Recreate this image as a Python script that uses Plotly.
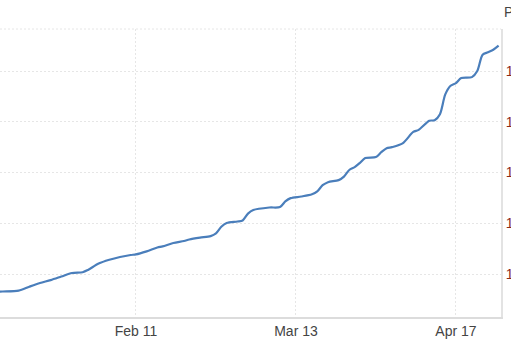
import plotly.graph_objects as go

# Session index (trading sessions) and index level
session = [-1, 0, 3, 5, 7, 9, 11, 13, 15, 16, 18, 20, 22, 24, 25, 27, 29, 30, 32, 34,
           35, 37, 39, 40, 41, 42, 44, 45, 46, 47, 50, 52, 53, 54, 56, 58, 59, 60, 61,
           63, 64, 65, 66, 67, 68, 70, 71, 72, 73, 75, 77, 78, 80, 81, 82, 83, 84, 85,
           86, 88, 89, 90, 91, 92, 93]
value = [96.5, 96.55, 96.72, 97.5, 98.23, 98.8, 99.5, 100.2, 100.35, 100.8, 102.05,
         102.8, 103.35, 103.75, 103.87, 104.47, 105.22, 105.45, 106.11, 106.5, 106.8,
         107.17, 107.47, 108.0, 109.3, 110.05, 110.35, 110.55, 111.9, 112.6, 113.1,
         113.2, 114.3, 114.95, 115.27, 115.72, 116.3, 117.5, 118.1, 118.5, 119.2,
         120.5, 121.05, 121.9, 122.85, 123.05, 124.0, 124.8, 125.0, 125.75, 128.0,
         128.4, 130.2, 130.3, 131.5, 135.4, 137.1, 137.6, 138.6, 138.8, 140.0, 143.2,
         143.7, 144.2, 145.0]

x_tick_sessions = [25, 55, 85]
x_tick_labels = ["Feb 11", "Mar 13", "Apr 17"]
y_ticks = [100, 110, 120, 130, 140]
y_tick_labels = ["100", "110", "120", "130", "140"]
axis_title = "Points"

fig = go.Figure()
fig.add_trace(go.Scatter(
    x=session, y=value, mode="lines",
    line=dict(color="#4a7ebb", width=2.2, shape="spline", smoothing=0.8),
    hoverinfo="skip", showlegend=False,
))

fig.update_layout(
    width=511, height=347,
    margin=dict(l=0, r=10, t=29, b=30),
    paper_bgcolor="white", plot_bgcolor="white",
    font=dict(family="Liberation Sans, Arial, sans-serif", size=14, color="#333333"),
    xaxis=dict(
        range=[-0.5, 93.45],
        tickvals=x_tick_sessions, ticktext=x_tick_labels,
        showgrid=True, gridcolor="#e6e6e6", griddash="2px,2px", gridwidth=1,
        showline=True, linecolor="#dcdcdc", linewidth=2,
        ticks="", zeroline=False, automargin=False,
        tickfont=dict(size=14, color="#444444"),
    ),
    yaxis=dict(
        side="right",
        range=[91.53, 148.28],
        tickvals=y_ticks, ticktext=y_tick_labels,
        showgrid=True, gridcolor="#e6e6e6", griddash="2px,2px", gridwidth=1,
        showline=True, linecolor="#e3e3e3", linewidth=2,
        ticks="", zeroline=False, automargin=False,
        tickfont=dict(size=14, color="#8b2a1a"),
    ),
    shapes=[dict(type="line", xref="paper", yref="paper", x0=0, x1=1, y0=1, y1=1,
                 line=dict(color="#e6e6e6", width=1, dash="2px,2px"))],
    annotations=[dict(text=axis_title, xref="paper", yref="paper", x=1.0, y=1.0,
                      xanchor="left", yanchor="bottom", xshift=1, yshift=7,
                      showarrow=False, font=dict(size=14, color="#444444"))],
)

fig.write_html("out.html")
